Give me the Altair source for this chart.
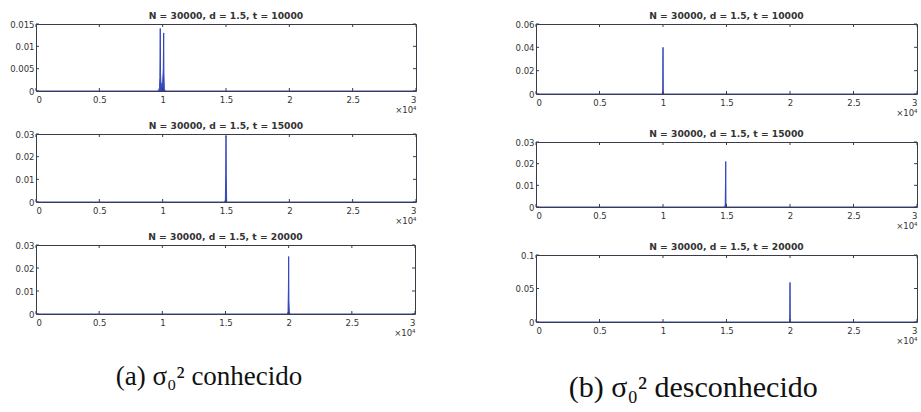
import altair as alt
import pandas as pd

# ---------------- data ----------------
x_ticks = [0, 5000, 10000, 15000, 20000, 25000, 30000]

titles = [
    "N = 30000, d = 1.5, t = 10000",
    "N = 30000, d = 1.5, t = 15000",
    "N = 30000, d = 1.5, t = 20000",
]

# (a) sigma0^2 known
a1_x = [0, 9600, 9700, 9750, 9780, 9810, 9830, 9860, 9900, 9950, 10000, 10050, 10080, 10100, 10130, 10200, 30000]
a1_y = [0, 0, 0.0003, 0.0008, 0.003, 0.014, 0.004, 0.002, 0.0015, 0.001, 0.002, 0.005, 0.013, 0.004, 0.0005, 0, 0]
a2_x = [0, 14900, 14950, 14980, 15000, 15020, 15050, 30000]
a2_y = [0, 0, 0.001, 0.013, 0.029, 0.012, 0, 0]
a3_x = [0, 19900, 19950, 19980, 20000, 20020, 20050, 20100, 30000]
a3_y = [0, 0, 0.001, 0.011, 0.025, 0.006, 0.001, 0, 0]

# (b) sigma0^2 unknown
b1_x = [0, 9950, 9980, 10000, 10020, 10050, 30000]
b1_y = [0, 0, 0.002, 0.040, 0.002, 0, 0]
b2_x = [0, 14850, 14900, 14940, 14960, 15000, 30000]
b2_y = [0, 0, 0.001, 0.021, 0.002, 0, 0]
b3_x = [0, 19950, 19980, 20000, 20020, 20050, 30000]
b3_y = [0, 0, 0.002, 0.059, 0.002, 0, 0]

a_ymax = [0.015, 0.03, 0.03]
a_yticks = [[0, 0.005, 0.01, 0.015], [0, 0.01, 0.02, 0.03], [0, 0.01, 0.02, 0.03]]
b_ymax = [0.06, 0.03, 0.1]
b_yticks = [[0, 0.02, 0.04, 0.06], [0, 0.01, 0.02, 0.03], [0, 0.05, 0.1]]

captions = ["(a) σ₀² conhecido", "(b) σ₀² desconhecido"]

# ---------------- style ----------------
BLUE = "#3446c0"
FRAME = "#3c3c48"
TXT = "#333333"
SANS = "DejaVu Sans"
SERIF = "Liberation Serif"


def panel(xs, ys, ymax, yticks, title, w, h, shift=0):
    df = pd.DataFrame({"x": xs, "y": ys})
    xsc = alt.Scale(domain=[0, 30000], nice=False, zero=False)
    ysc = alt.Scale(domain=[0, ymax], nice=False, zero=False)
    xax = alt.Axis(
        values=x_ticks, labelExpr="datum.value / 10000", title="×10⁴",
        titleAnchor="end", titleAlign="right", titleFontSize=8.5,
        titleFontWeight="normal", titleColor=TXT, titlePadding=2,
        titleFont=SANS, labelFont=SANS, labelFontSize=8.5, labelColor=TXT,
        labelPadding=4, ticks=False, domain=False, grid=False)
    yax = alt.Axis(
        values=yticks, labelExpr="'' + datum.value", title=None, labelFont=SANS,
        labelFontSize=8.5, labelColor=TXT, labelPadding=2, ticks=False,
        domain=False, grid=False)
    X = lambda: alt.X("x:Q", scale=xsc, axis=xax, title="×10⁴")
    Y = lambda: alt.Y("y:Q", scale=ysc, axis=yax, title=None)
    area = alt.Chart(df).mark_area(
        color=BLUE, opacity=1, line={"color": BLUE, "strokeWidth": 1}, clip=True
    ).encode(x=X(), y=Y())
    xt = pd.DataFrame({"x": x_ticks})
    yt = pd.DataFrame({"y": yticks})
    tb = alt.Chart(xt).mark_rule(color=FRAME, strokeWidth=1).encode(
        x=X(), y=alt.value(h), y2=alt.value(h - 3))
    tt = alt.Chart(xt).mark_rule(color=FRAME, strokeWidth=1).encode(
        x=X(), y=alt.value(0), y2=alt.value(3))
    tl = alt.Chart(yt).mark_rule(color=FRAME, strokeWidth=1).encode(
        y=Y(), x=alt.value(0), x2=alt.value(3))
    tr = alt.Chart(yt).mark_rule(color=FRAME, strokeWidth=1).encode(
        y=Y(), x=alt.value(w - 3), x2=alt.value(w))
    tparams = dict(font=SANS, fontSize=9.2, fontWeight="bold", color=TXT,
                   offset=-1 + shift, anchor="middle")
    if shift:
        tparams["dy"] = shift
    return alt.layer(area, tb, tt, tl, tr).properties(
        width=w, height=h,
        view=alt.ViewBackground(stroke=FRAME, strokeWidth=1),
        title=alt.TitleParams(title, **tparams),
    )


left = alt.vconcat(
    panel(a1_x, a1_y, a_ymax[0], a_yticks[0], titles[0], 380, 67),
    panel(a2_x, a2_y, a_ymax[1], a_yticks[1], titles[1], 380, 68),
    panel(a3_x, a3_y, a_ymax[2], a_yticks[2], titles[2], 379, 69),
    spacing=6,
).properties(title=alt.TitleParams(captions[0], orient="bottom", anchor="middle",
                                   font=SERIF, fontSize=27, fontWeight="normal",
                                   color="#111111", offset=26, dx=-4))

right = alt.vconcat(
    panel(b1_x, b1_y, b_ymax[0], b_yticks[0], titles[0], 381, 70, shift=4),
    panel(b2_x, b2_y, b_ymax[1], b_yticks[1], titles[1], 381, 65),
    panel(b3_x, b3_y, b_ymax[2], b_yticks[2], titles[2], 381, 67),
    spacing=11,
).properties(title=alt.TitleParams(captions[1], orient="bottom", anchor="middle",
                                   font=SERIF, fontSize=30, fontWeight="normal",
                                   color="#111111", offset=27, dx=-23))

chart = alt.hconcat(left, right, spacing=97).properties(
    padding={"left": 9, "top": 11, "right": 0, "bottom": 0}
).configure_view(stroke=FRAME, strokeWidth=1).configure(background="white")

chart.save("out.html", embed_options={"renderer": "svg", "actions": False})
